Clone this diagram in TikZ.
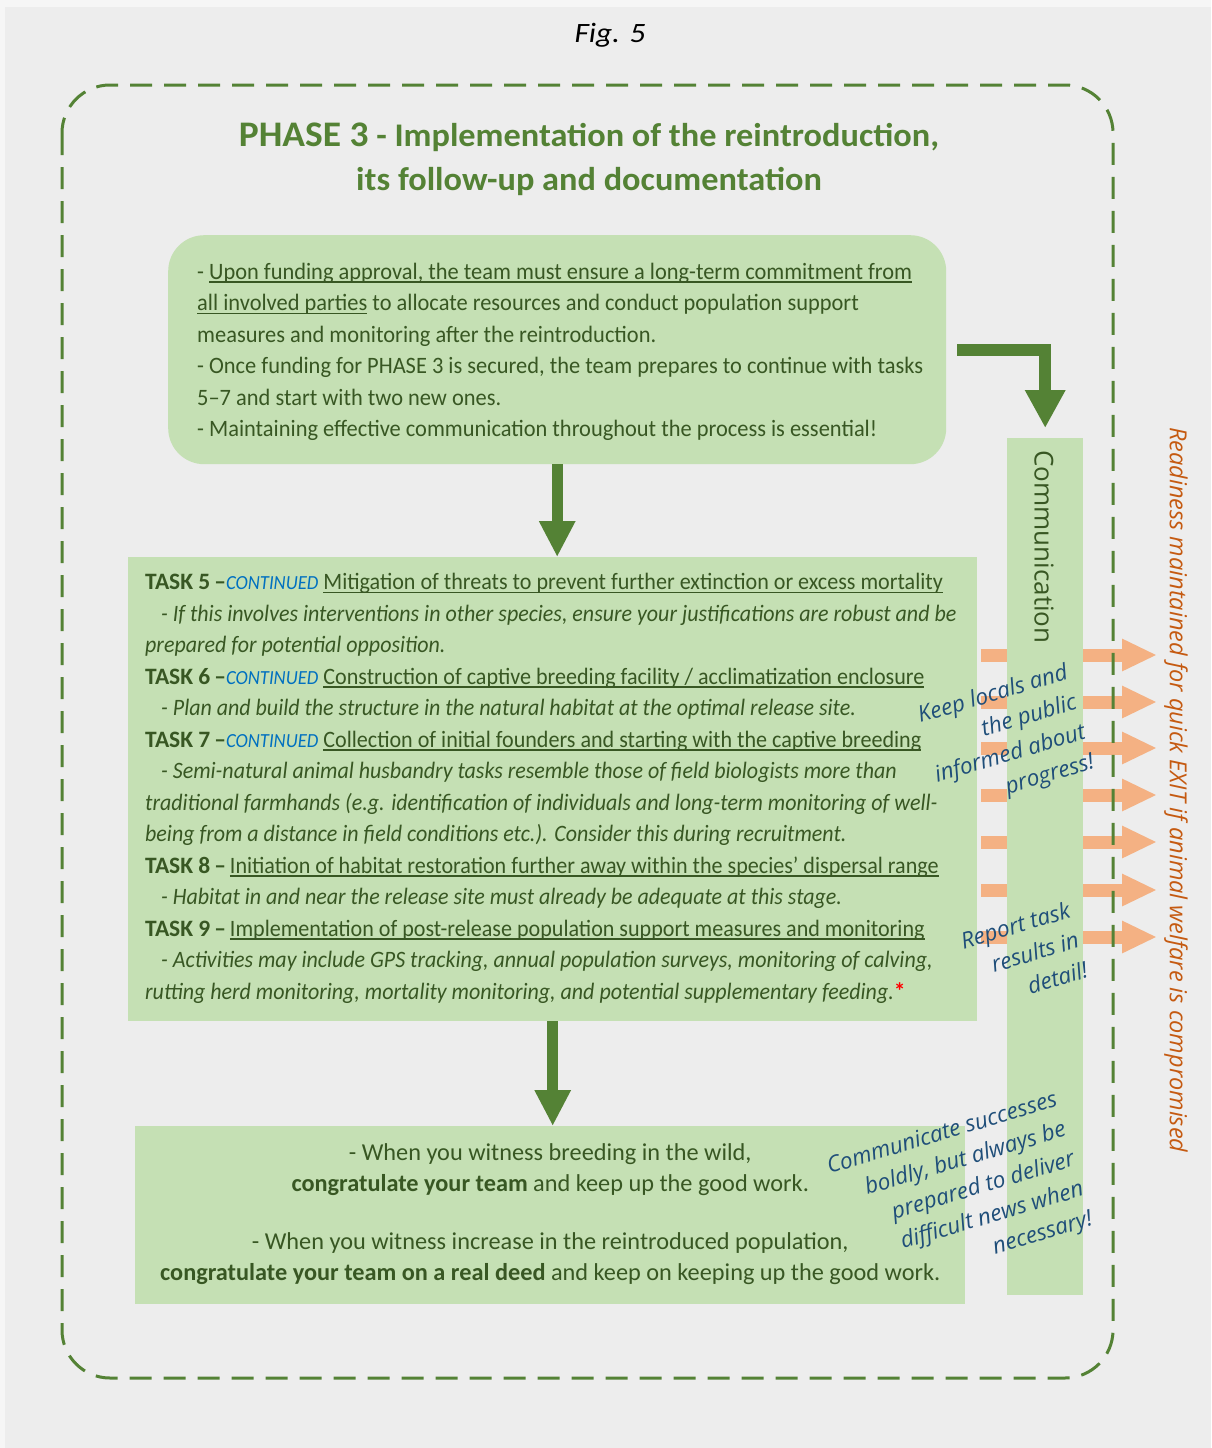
\documentclass[tikz,border=0pt]{standalone}
\usepackage{fontspec}
\setmainfont{Carlito}
\newfontfamily\notefont{Open Sans}
\newfontfamily\brieffont{Carlito}[FakeStretch=0.954]
\newfontfamily\taskfont{Carlito}[UprightFeatures={FakeStretch=0.94}, ItalicFeatures={FakeStretch=0.935}]
\newfontfamily\titlefont{Carlito}[FakeStretch=1.04]
\newfontfamily\capfont{Carlito}[FakeStretch=1.12]
\usetikzlibrary{arrows.meta}
\definecolor{pagebg}{HTML}{F6F6F6}
\definecolor{panelbg}{HTML}{EDEDED}
\definecolor{leafgreen}{HTML}{548235}
\definecolor{boxgreen}{HTML}{C5E0B4}
\definecolor{inkgreen}{HTML}{385723}
\definecolor{contblue}{HTML}{0070C0}
\definecolor{noteblue}{HTML}{1F4E79}
\definecolor{exitorange}{HTML}{C55A11}
\definecolor{arroworange}{HTML}{F4B183}

% underline drawn as a rule below the boxed text
\newsavebox{\ulbox}
\newcommand{\undl}[1]{\sbox{\ulbox}{#1}\rlap{\rule[-3.5pt]{\wd\ulbox}{1.2pt}}\usebox{\ulbox}}
\newcommand{\taskhead}[1]{\textbf{TASK #1\,–}}
\newcommand{\contd}{{\color{contblue}\fontsize{20}{20}\selectfont\itshape CONTINUED} }

\begin{document}
\begin{tikzpicture}[x=1pt,y=-1pt,
  greenbox/.style={fill=boxgreen, draw=none, inner sep=0pt},
  bodytext/.style={text=inkgreen, inner sep=0pt},
  bigarrow/.style={draw=leafgreen, line width=11pt, -{Triangle[width=34pt,length=36pt]}},
  exitarrow/.style={draw=arroworange, line width=13pt, -{Triangle[width=30pt,length=35pt]}},
  note/.style={text=noteblue, rotate=16.5, align=right, inner sep=0pt, font=\notefont\itshape\fontsize{22.5}{31}\selectfont},
]
\useasboundingbox (0,0) rectangle (1211,1448);
\fill[pagebg] (0,0) rectangle (1211,1448);
\fill[panelbg] (5,7) rectangle (1211,1448);

% caption
\node[font=\capfont\itshape\fontsize{28}{30}\selectfont, inner sep=0pt] (fig) at (610,35) {Fig. 5};

% boxes
\node[greenbox, rounded corners=36pt, minimum width=778pt, minimum height=229pt, anchor=north west] (brief) at (168,235) {};
\node[greenbox, minimum width=849pt, minimum height=464pt, anchor=north west] (tasks) at (128,557) {};
\node[greenbox, minimum width=830pt, minimum height=178pt, anchor=north west] (success) at (135,1126) {};

% exit arrows (behind the communication column)
\foreach \yy in {655,702,748,795,842,890,937}{
  \coordinate (exitlevel) at (0,\yy);
  \coordinate (exittip) at (1157,\yy);
  \draw[exitarrow] ([xshift=4pt]tasks.east |- exitlevel) -- (exittip);
}

\node[greenbox, minimum width=76pt, minimum height=857pt, anchor=north west] (comm) at (1007,438) {};

% dashed phase frame
\draw[leafgreen, line width=3pt, dash pattern=on 22pt off 12pt, rounded corners=48pt] (62,85) rectangle (1113,1378);

% title
\node[text=leafgreen, align=center, inner sep=0pt, font=\titlefont\bfseries\fontsize{33}{44}\selectfont] (title) at (589,159)
  {{\fontsize{36}{44}\selectfont PHASE 3} - Implementation of the reintroduction,\\its follow-up and documentation};

% texts
\node[bodytext, anchor=west, align=left, font=\brieffont\fontsize{23.5}{31.5}\selectfont] (brieftext) at ([xshift=29pt,yshift=-2pt]brief.west) {%
- \undl{Upon funding approval, the team must ensure a long-term commitment from}\\
\undl{all involved parties} to allocate resources and conduct population support\\
measures and monitoring after the reintroduction.\\
- Once funding for PHASE 3 is secured, the team prepares to continue with tasks\\
5–7 and start with two new ones.\\
- Maintaining effective communication throughout the process is essential!};

\node[bodytext, anchor=west, align=left, font=\taskfont\fontsize{23.5}{31.5}\selectfont] (taskstext) at ([xshift=17pt,yshift=1pt]tasks.west) {%
\taskhead{5}\contd\undl{Mitigation of threats to prevent further extinction or excess mortality}\\
\hspace*{16pt}\textit{- If this involves interventions in other species, ensure your justifications are robust and be}\\
\textit{prepared for potential opposition.}\\
\taskhead{6}\contd\undl{Construction of captive breeding facility / acclimatization enclosure}\\
\hspace*{16pt}\textit{- Plan and build the structure in the natural habitat at the optimal release site.}\\
\taskhead{7}\contd\undl{Collection of initial founders and starting with the captive breeding}\\
\hspace*{16pt}\textit{- Semi-natural animal husbandry tasks resemble those of field biologists more than}\\
\textit{traditional farmhands (e.g. identification of individuals and long-term monitoring of well-}\\
\textit{being from a distance in field conditions etc.). Consider this during recruitment.}\\
\taskhead{8}\,\undl{Initiation of habitat restoration further away within the species’ dispersal range}\\
\hspace*{16pt}\textit{- Habitat in and near the release site must already be adequate at this stage.}\\
\taskhead{9}\,\undl{Implementation of post-release population support measures and monitoring}\\
\hspace*{16pt}\textit{- Activities may include GPS tracking, annual population surveys, monitoring of calving,}\\
\textit{rutting herd monitoring, mortality monitoring, and potential supplementary feeding.}{\color{red}\textbf{*}}};

\node[bodytext, align=center, font=\fontsize{24.3}{31}\selectfont] (successtext) at ([yshift=1pt]success.center) {%
- When you witness breeding in the wild,\\
\textbf{congratulate your team} and keep up the good work.\\[27pt]
- When you witness increase in the reintroduced population,\\
\textbf{congratulate your team on a real deed} and keep on keeping up the good work.};

\node[rotate=-90, text=inkgreen, inner sep=0pt, font=\notefont\fontsize{26}{30}\selectfont] (commlabel) at (1044,547) {Communication};

\node[rotate=-90, text=exitorange, inner sep=0pt, font=\notefont\itshape\fontsize{23.5}{27}\selectfont] (exitnote) at (1176,790)
  {Readiness maintained for quick EXIT if animal welfare is compromised};

\node[note] (notelocals) at (1006,740) {Keep locals and\\the public\\informed about\\progress!};
\node[note] (notereport) at (1024,955) {Report task\\results in\\detail!};
\node[note] (notesuccess) at (960,1194) {Communicate successes\\boldly, but always be\\prepared to deliver\\difficult news when\\necessary!};

% flow arrows
\draw[bigarrow] (brief.south) -- (brief.south |- tasks.north);
\draw[bigarrow] (tasks.south) -- (tasks.south |- success.north);
\draw[bigarrow, line width=12pt, -{Triangle[width=38pt,length=38pt]}, line join=miter]
  ([xshift=11pt]brief.east) -| ([yshift=10pt]comm.north);
\end{tikzpicture}
\end{document}
